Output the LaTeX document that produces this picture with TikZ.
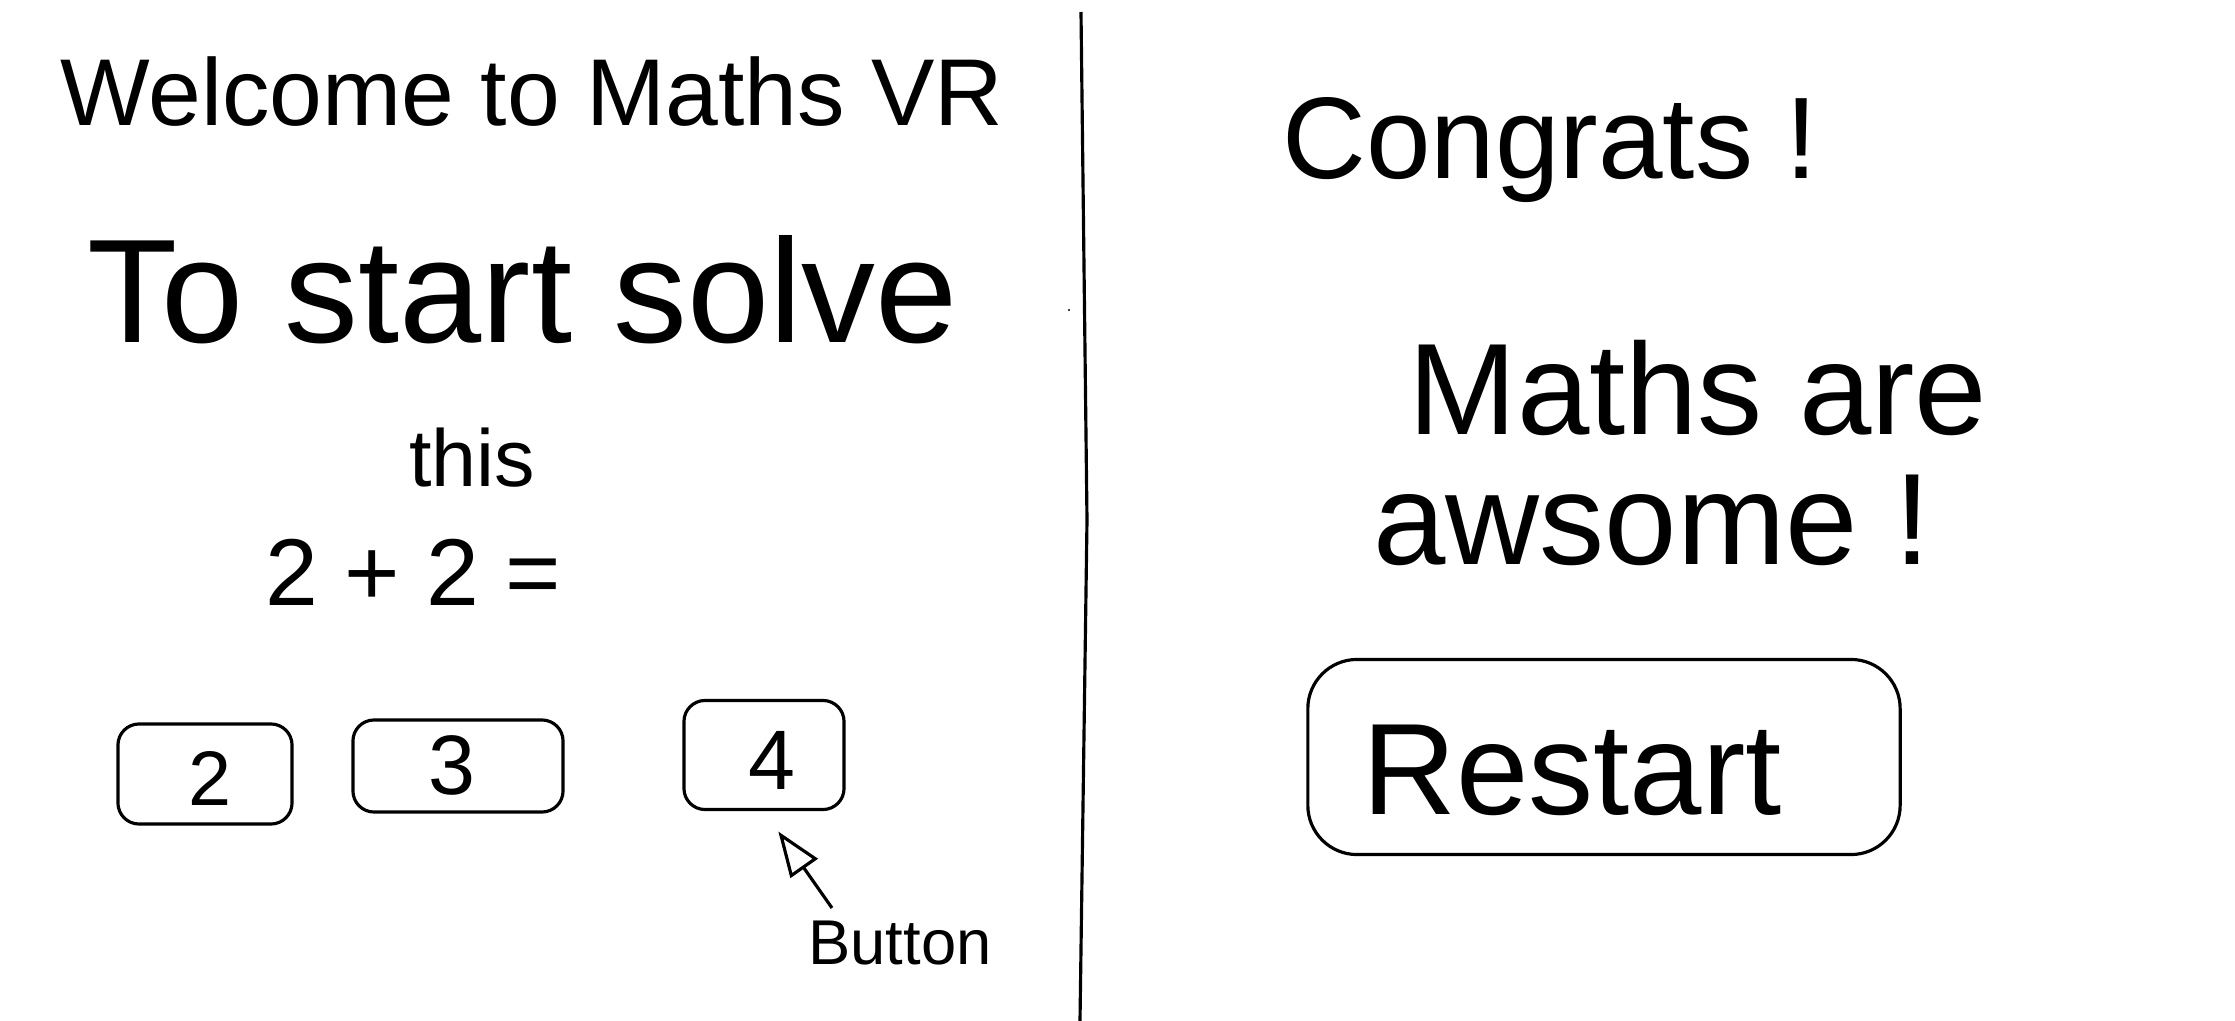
\documentclass[tikz,border=0pt]{standalone}
\usepackage{fontspec}
\setmainfont{Liberation Sans}
\usetikzlibrary{arrows.meta}
\newcommand{\fsz}[1]{\fontsize{#1}{#1}\selectfont}
\tikzset{
  ink/.style={line width=0.9pt, draw=black},
  txt/.style={inner sep=0pt, anchor=center, text=black},
  btnbox/.style={ink, rounded corners=6pt, inner sep=0pt},
}
\begin{document}
\begin{tikzpicture}[x=0.01cm, y=-0.01cm]
\useasboundingbox[fill=white] (0,0) rectangle (2235,1021);
% divider
\coordinate (dtop) at (1081,12);
\coordinate (dmid) at (1087,520);
\coordinate (dbot) at (1080,1021);
\draw[ink] (dtop) -- (dmid) -- (dbot);
\coordinate (dot) at (1069,310);
\fill (dot) circle (1.2);
% left screen
\node[txt] (welcome) at (532,92) {\fsz{27pt}Welcome to Maths VR};
\node[txt] (tostart) at (523,290) {\fsz{42pt}To start solve};
\node[txt] (this) at (472,458) {\fsz{23pt}this};
\node[txt] (eq) at (413,572) {\fsz{27pt}2 + 2 =};
\node[btnbox, minimum width=1.74cm, minimum height=1.0cm] (b2) at (205,774) {};
\node[txt] (t2) at (210,778) {\fsz{22pt}2};
\node[btnbox, minimum width=2.1cm, minimum height=0.92cm] (b3) at (458,766) {};
\node[txt] (t3) at (452,765) {\fsz{24pt}3};
\node[btnbox, minimum width=1.6cm, minimum height=1.09cm] (b4) at (764,755) {};
\node[txt] (t4) at (772,760) {\fsz{24pt}4};
\node[txt] (btn) at (900,943) {\fsz{18pt}Button};
\coordinate (tail) at (832,908);
\draw[ink, -{Triangle[open, length=0.45cm, width=0.33cm]}, shorten >=0.25cm] (tail) -- (b4.south);
% right screen
\node[txt] (congrats) at (1550,150) {\fsz{33pt}Congrats !};
\node[txt] (mathsare) at (1698,388) {\fsz{37pt}Maths are};
\node[txt] (awsome) at (1652,520) {\fsz{37pt}awsome !};
\node[btnbox, rounded corners=14pt, minimum width=5.92cm, minimum height=1.95cm] (rbox) at (1604,757) {};
\node[txt] (restart) at (1572,770) {\fsz{37pt}Restart};
\end{tikzpicture}
\end{document}
